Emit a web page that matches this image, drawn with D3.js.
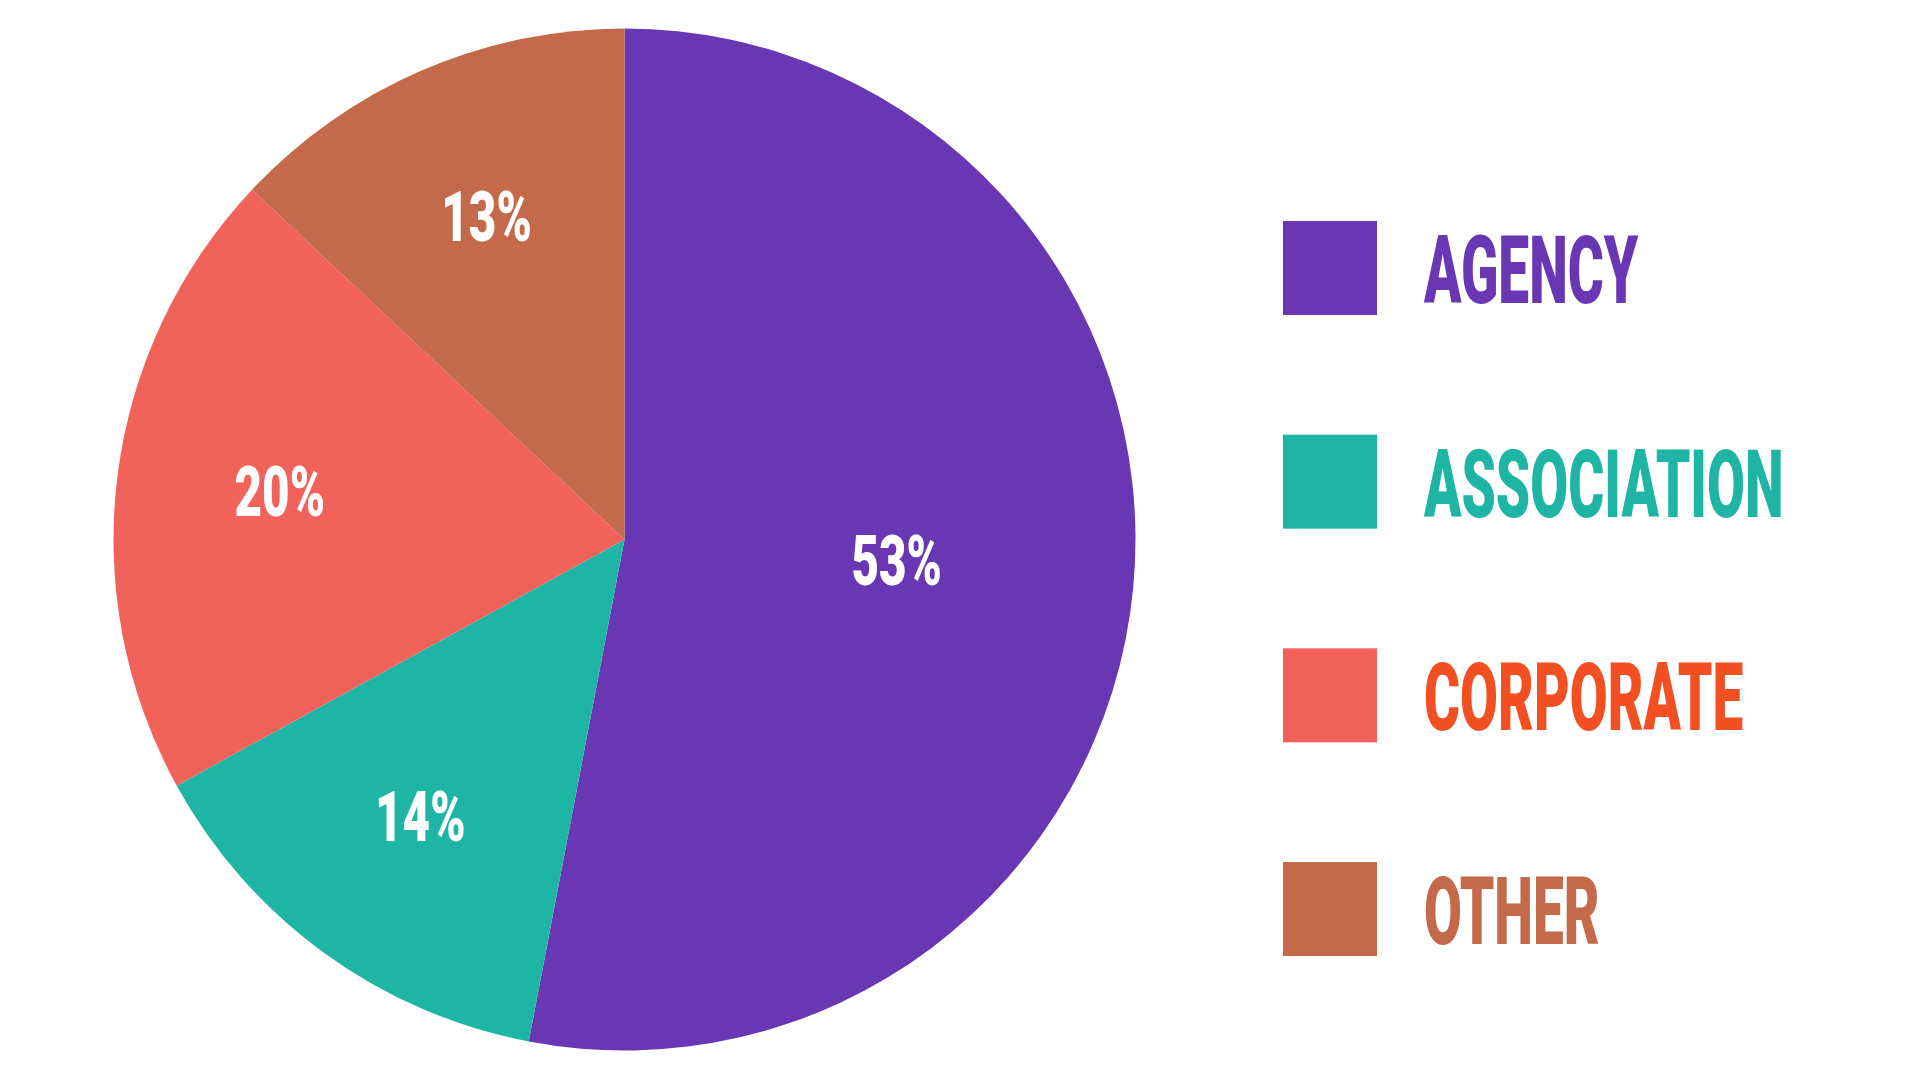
<!DOCTYPE html>
<html>
<head>
<meta charset="utf-8">
<script src="https://cdn.jsdelivr.net/npm/d3@7"></script>
<style>
  html, body { margin: 0; padding: 0; background: #fff; }
  svg { display: block; }
  text { font-family: Roboto, "DejaVu Sans", sans-serif; font-weight: 900; }
</style>
</head>
<body>
<div id="chart-container"></div>
<script>
// data
const categories = ["AGENCY", "ASSOCIATION", "CORPORATE", "OTHER"];
const shares = [53, 14, 20, 13];
const sliceColors = ["#6937b4", "#1eb5a4", "#f0625a", "#c4694a"];
const textColors = ["#6937b4", "#1eb5a4", "#f24f22", "#c4694a"];

const data = categories.map((c, i) => ({ name: c, value: shares[i], i: i }));

// define canvas
const w = 1920;
const h = 1080;
const cx = 624.5;
const cy = 539.5;
const radius = 511;

const svg = d3
  .select("#chart-container")
  .append("svg")
  .attr("width", w)
  .attr("height", h);

// pie
const pie = d3.pie().value((d) => d.value).sort(null);
const arc = d3.arc().innerRadius(0).outerRadius(radius);

const g = svg.append("g").attr("transform", "translate(" + cx + "," + cy + ")");

const arcs = pie(data);

g.selectAll("path")
  .data(arcs)
  .enter()
  .append("path")
  .attr("d", arc)
  .attr("fill", (d) => sliceColors[d.data.i]);

// labels - big slice sits closer to the centre
const labelPos = (d) => {
  const k = d.endAngle - d.startAngle > Math.PI ? 0.535 : 0.68;
  const a = d3.arc().innerRadius(radius * k).outerRadius(radius * k);
  return a.centroid(d);
};

g.selectAll("text.pct")
  .data(arcs)
  .enter()
  .append("text")
  .attr("class", "pct")
  .attr("transform", (d) => {
    const p = labelPos(d);
    return "translate(" + p[0] + "," + (p[1] + 20) + ") scale(0.67,1)";
  })
  .attr("text-anchor", "middle")
  .attr("font-size", 71)
  .attr("fill", "#fff")
  .text((d) => d.data.value + "%");

// legend
const legendY = d3
  .scalePoint()
  .domain(categories)
  .range([221, 862]);

const legend = svg
  .selectAll("g.legend")
  .data(data)
  .enter()
  .append("g")
  .attr("class", "legend")
  .attr("transform", (d) => "translate(1283," + legendY(d.name) + ")");

legend
  .append("rect")
  .attr("width", 94)
  .attr("height", 94)
  .attr("fill", (d) => sliceColors[d.i]);

legend
  .append("text")
  .attr("transform", "translate(141,82) scale(0.585,1)")
  .attr("font-size", 94)
  .attr("fill", (d) => textColors[d.i])
  .text((d) => d.name);
</script>
</body>
</html>
